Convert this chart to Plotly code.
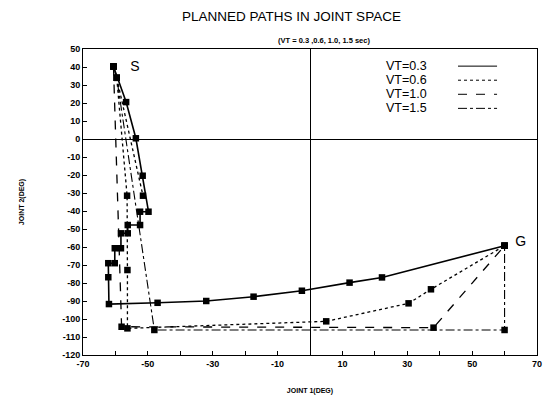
import plotly.graph_objects as go

# ---- data (joint angles in degrees) ----
vt03_j1 = [-60.6, -56.7, -53.7, -51.6, -49.8, -52.4, -52.4, -56.2, -56.2, -58.3, -58.3, -60.2, -60.2,
           -62.2, -62.2, -62.0, -47.0, -32.0, -17.4, -2.5, 12.2, 22.2, 60.0]
vt03_j2 = [40.3, 20.5, 0.4, -20.4, -40.4, -40.4, -47.8, -47.8, -52.4, -52.4, -60.7, -60.7, -69.0,
           -69.0, -76.8, -91.7, -91.0, -90.0, -87.6, -84.3, -79.8, -76.9, -59.3]

vt06_j1 = [-60.6, -59.6, -51.5, None, -59.6, -56.4, -56.3, -56.3, 5.0, 30.4, 37.3, 60.0]
vt06_j2 = [40.3, 34.0, -31.5, None, 34.0, -31.5, -72.8, -105.2, -101.3, -91.3, -83.5, -59.3]

vt10_j1 = [-60.6, -58.1, 38.1, 60.0]
vt10_j2 = [40.3, -104.3, -104.8, -59.3]

vt15_j1 = [-60.6, -59.6, -48.0, 60.0, 60.0]
vt15_j2 = [40.3, 34.0, -106.1, -106.1, -59.3]

series_names = ["VT=0.3", "VT=0.6", "VT=1.0", "VT=1.5"]
series_dash = ["solid", "dot", "dash", "dashdot"]
series_width = [1.6, 1.3, 1.3, 1.1]

x_ticks = [-70, -50, -30, -10, 10, 30, 50, 70]
y_ticks = list(range(-120, 51, 10))

endpoint_labels = ["S", "G"]
endpoint_j1 = [-54.0, 65.0]
endpoint_j2 = [40.0, -57.5]

data = [(vt03_j1, vt03_j2), (vt06_j1, vt06_j2), (vt10_j1, vt10_j2), (vt15_j1, vt15_j2)]

fig = go.Figure()
for (xs, ys), name, dash, w in zip(data, series_names, series_dash, series_width):
    fig.add_trace(go.Scatter(
        x=xs, y=ys, mode="lines+markers", name=name, connectgaps=False,
        line=dict(color="black", dash=dash, width=w),
        marker=dict(symbol="square", size=6.5, color="black"),
        showlegend=False,
    ))

fig.add_trace(go.Scatter(
    x=endpoint_j1, y=endpoint_j2, mode="text", text=endpoint_labels,
    textfont=dict(family="Liberation Sans", size=14, color="black"),
    showlegend=False, hoverinfo="skip",
))

# custom legend (text left, line sample right), in paper coordinates
legend_y = [0.944, 0.898, 0.852, 0.806]
for name, dash, ly in zip(series_names, series_dash, legend_y):
    fig.add_annotation(x=0.665, y=ly, xref="paper", yref="paper", text=name, showarrow=False,
                       xanchor="left", yanchor="middle", borderpad=0,
                       font=dict(family="Liberation Sans", size=12.5, color="black"))
    fig.add_shape(type="line", xref="paper", yref="paper", x0=0.826, x1=0.912, y0=ly, y1=ly,
                  line=dict(color="black", width=1, dash=dash))

fig.add_annotation(x=0.53, y=1 + 9 / 306, xref="paper", yref="paper",
                   text="(VT = 0.3 ,0.6, 1.0, 1.5 sec)", showarrow=False,
                   xanchor="center", yanchor="middle",
                   font=dict(family="Liberation Sans", size=7.5, color="black", weight="bold"))

axis_common = dict(
    showgrid=False, showline=True, linecolor="black", linewidth=1, mirror=True,
    zeroline=True, zerolinecolor="black", zerolinewidth=1,
    ticks="inside", ticklen=4, tickcolor="black", automargin=False,
    tickfont=dict(family="Liberation Sans", size=9, color="black", weight="bold"),
)

fig.update_layout(
    width=550, height=399,
    margin=dict(l=83, r=13, t=49, b=44),
    paper_bgcolor="white", plot_bgcolor="white",
    title=dict(text="PLANNED PATHS IN JOINT SPACE", x=0.53, xanchor="center",
               y=1 - 16 / 399, yanchor="middle", yref="container",
               font=dict(family="Liberation Sans", size=13.5, color="black")),
    xaxis=dict(range=[-70, 70], tickvals=x_ticks, ticktext=[str(v) for v in x_ticks],
               minor=dict(ticks="inside", tickvals=list(range(-70, 71, 10)), ticklen=4, tickcolor="black"),
               title=dict(text="JOINT 1(DEG)", standoff=20,
                          font=dict(family="Liberation Sans", size=7, color="black", weight="bold")),
               **axis_common),
    yaxis=dict(range=[-120, 50], tickvals=y_ticks, ticktext=[str(v) for v in y_ticks],
               title=dict(text="JOINT 2(DEG)", standoff=36,
                          font=dict(family="Liberation Sans", size=7, color="black", weight="bold")),
               **axis_common),
)

fig.write_html("out.html")
